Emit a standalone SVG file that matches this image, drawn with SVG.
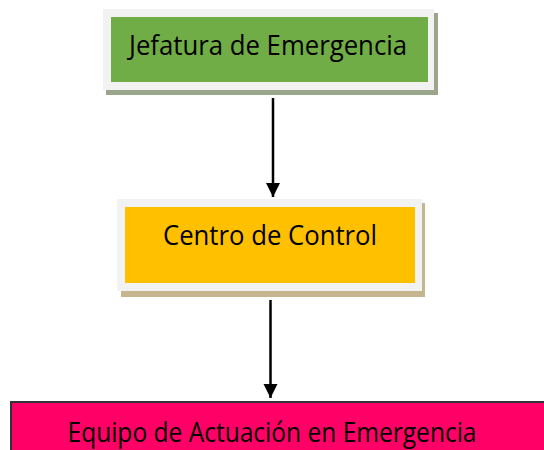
<svg xmlns="http://www.w3.org/2000/svg" width="544" height="450" viewBox="0 0 544 450">
<defs>
<style>
.lbl{font-family:"Open Sans","Liberation Sans",sans-serif;font-size:27px;fill:#000;text-anchor:middle}
.frame{fill:#f2f2f2}
.conn{stroke:#000;stroke-width:2.5;fill:none}
</style>
<marker id="ah" viewBox="0 0 10 10" refX="10" refY="5" markerWidth="5.6" markerHeight="6.8" markerUnits="strokeWidth" orient="auto">
<path d="M0,0 L10,5 L0,10 Z" fill="#000"/>
</marker>
</defs>
<rect width="544" height="450" fill="#fff"/>
<g id="node-jefatura">
<rect x="106" y="13" width="332" height="82" fill="#9aa68c"/>
<rect class="frame" x="103" y="9" width="331" height="81"/>
<rect x="111" y="17" width="317" height="65" fill="#70ad47"/>
<text class="lbl" x="268" y="55" textLength="278" lengthAdjust="spacingAndGlyphs">Jefatura de Emergencia</text>
</g>
<g id="node-centro">
<rect x="121" y="203" width="304" height="94" fill="#c5b68f"/>
<rect class="frame" x="117" y="199" width="305" height="92"/>
<rect x="125" y="207" width="290" height="76" fill="#ffc000"/>
<text class="lbl" x="270" y="245" textLength="214" lengthAdjust="spacingAndGlyphs">Centro de Control</text>
</g>
<g id="node-equipo">
<rect x="11" y="402" width="540" height="60" fill="#ff0066" stroke="#333" stroke-width="2"/>
<text class="lbl" x="272" y="442" textLength="409" lengthAdjust="spacingAndGlyphs">Equipo de Actuación en Emergencia</text>
</g>
<g id="connectors">
<line class="conn" x1="273" y1="98" x2="273" y2="197" marker-end="url(#ah)"/>
<line class="conn" x1="270.5" y1="300" x2="270.5" y2="398" marker-end="url(#ah)"/>
</g>
</svg>
